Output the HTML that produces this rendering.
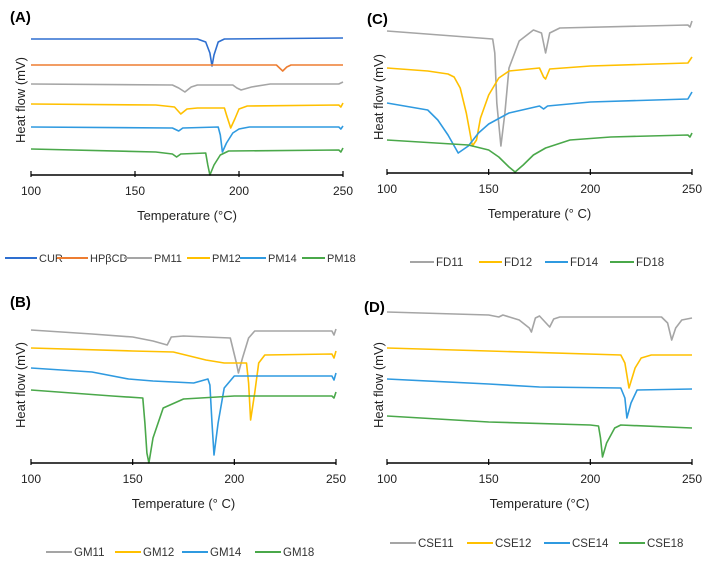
<!DOCTYPE html>
<html><head><meta charset="utf-8"><style>
body{margin:0;background:#fff}
svg{display:block;font-family:"Liberation Sans",Arial,sans-serif}
</style></head><body>
<svg id="c" width="724" height="570" viewBox="0 0 724 570"></svg>
<script>
const ticks=[100,150,200,250];
const seriesNamesA=["CUR","HPβCD","PM11","PM12","PM14","PM18"];
const seriesNamesB=["GM11","GM12","GM14","GM18"];
const seriesNamesC=["FD11","FD12","FD14","FD18"];
const seriesNamesD=["CSE11","CSE12","CSE14","CSE18"];
// [temperature, heat flow (a.u.)]
const CUR=[[100,136],[180,136],[184,133],[186,122],[187,109],[188,120],[190,133],[193,136],[250,137]];
const HPBCD=[[100,110],[218,110],[220,106],[221,104],[223,108],[225,110],[250,110]];
const PM11=[[100,91],[168,90],[171,87],[174,83],[177,88],[180,90],[197,90],[199,87],[201,85],[206,88],[215,91],[248,91],[250,93]];
const PM12=[[100,71],[160,70],[169,68],[172,61],[175,66],[180,67],[193,67],[194,60],[196,47],[198,56],[200,66],[204,69],[248,70],[249,68],[250,72]];
const PM14=[[100,48],[168,47],[171,44],[173,47],[190,48],[191,40],[192,23],[194,32],[197,42],[200,46],[205,48],[248,48],[249,46],[250,49]];
const PM18=[[100,26],[160,23],[168,21],[170,18],[172,21],[184,22],[185,10],[186,0],[188,10],[191,20],[195,24],[248,25],[249,23],[250,27]];
const GM11=[[100,133],[130,129],[150,126],[160,122],[167,118],[169,126],[175,127],[198,125],[201,100],[202,90],[204,105],[207,125],[210,132],[248,132],[249,128],[250,134]];
const GM12=[[100,115],[150,112],[170,111],[180,106],[186,103],[195,100],[206,100],[207,80],[208,43],[210,70],[212,100],[215,108],[248,109],[249,105],[250,112]];
const GM14=[[100,95],[130,91],[148,84],[160,82],[180,80],[187,84],[188,78],[189,40],[190,8],[192,40],[195,75],[200,87],[248,87],[249,83],[250,90]];
const GM18=[[100,73],[140,67],[155,65],[156,40],[157,10],[158,0],[160,25],[165,55],[175,64],[200,67],[248,67],[249,65],[250,71]];
const FD11=[[100,142],[152,134],[153,120],[154,70],[156,27],[158,60],[160,105],[165,132],[172,143],[176,140],[178,120],[180,140],[185,145],[248,148],[249,146],[250,152]];
const FD12=[[100,105],[120,102],[130,99],[133,96],[136,85],[139,60],[142,27],[144,33],[146,55],[150,78],[155,95],[160,102],[175,105],[177,96],[178,94],[180,104],[200,107],[248,110],[250,116]];
const FD14=[[100,70],[120,63],[125,53],[130,38],[135,20],[140,27],[145,40],[150,49],[160,60],[175,67],[177,64],[179,67],[200,71],[248,74],[250,81]];
const FD18=[[100,33],[140,28],[150,23],[155,16],[160,6],[163,1],[167,8],[172,18],[178,25],[190,33],[210,36],[248,38],[249,36],[250,40]];
const CSE11=[[100,151],[150,148],[155,146],[157,148],[165,143],[170,135],[171,131],[173,145],[175,147],[180,136],[182,144],[185,146],[235,146],[238,140],[240,123],[242,135],[245,143],[250,145]];
const CSE12=[[100,115],[150,112],[215,108],[217,100],[219,75],[222,95],[225,105],[230,108],[250,108]];
const CSE14=[[100,84],[150,79],[175,76],[215,75],[217,65],[218,45],[220,60],[223,73],[250,74]];
const CSE18=[[100,47],[150,41],[200,38],[204,37],[205,25],[206,6],[208,20],[212,35],[215,38],[250,35]];

const NS="http://www.w3.org/2000/svg";
const svg=document.getElementById('c');
function el(t,a,p){const e=document.createElementNS(NS,t);for(const k in a)e.setAttribute(k,a[k]);(p||svg).appendChild(e);return e;}
const COL={blue:"#2e6fd0",orange:"#ed7d31",gray:"#a5a5a5",yellow:"#ffc000",lblue:"#2f9ae0",green:"#4aa84a"};

function panel(cfg){
  const g=el('g',{});
  
  
  const x=t=>cfg.x0+(t-100)/150*(cfg.x1-cfg.x0);
  const y=v=>cfg.ay-v;
  const lab=el('text',{x:cfg.lx,y:cfg.ly,'font-size':15,'font-weight':'bold',fill:'#000'},g);
  lab.textContent='('+cfg.id+')';
  
  
  cfg.series.forEach((s,i)=>{
    const p=el('polyline',{points:s.d.map(q=>x(q[0]).toFixed(1)+','+y(q[1]).toFixed(1)).join(' '),fill:'none',stroke:s.c,'stroke-width':1.6,'stroke-linejoin':'round'},g);
    
    
  });
  const ax=el('line',{x1:cfg.x0,x2:cfg.x1,y1:cfg.ay,y2:cfg.ay,stroke:'#000','stroke-width':1.5},g);
  
  
  ticks.forEach(t=>{
    el('line',{x1:x(t),x2:x(t),y1:cfg.ay-4,y2:cfg.ay+2,stroke:'#000','stroke-width':1.2},g);
    const tl=el('text',{x:x(t),y:cfg.ay+20,'font-size':12,'text-anchor':'middle',fill:'#222'},g);
    tl.textContent=t;
    
    
  });
  const xt=el('text',{x:(cfg.x0+cfg.x1)/2,y:cfg.ay+45,'font-size':13,'text-anchor':'middle',fill:'#222'},g);
  xt.textContent=cfg.xt;
  
  
  const yt=el('text',{x:0,y:0,'font-size':13,'text-anchor':'middle',fill:'#222',transform:`translate(${cfg.yx},${cfg.yy}) rotate(-90)`},g);
  yt.textContent='Heat flow (mV)';
  
  
  cfg.series.forEach((s,i)=>{
    const lx=cfg.leg[i][0], lx2=cfg.leg[i][1];
    const lg=el('g',{},g);
    
    
    el('line',{x1:lx,x2:lx2,y1:cfg.legY-4,y2:cfg.legY-4,stroke:s.c,'stroke-width':2},lg);
    const t=el('text',{x:lx2+2,y:cfg.legY,'font-size':cfg.fs||11.5,fill:'#333'},lg);
    t.textContent=s.n;
  });
}
panel({id:'A',x0:31,x1:343,ay:175,lx:10,ly:22,xt:'Temperature (°C)',yx:25,yy:100,legY:262,fs:11,leg:[[5,37],[57,88],[124,152],[187,210],[240,266],[302,325]],
 series:[{n:seriesNamesA[0],d:CUR,c:COL.blue},{n:seriesNamesA[1],d:HPBCD,c:COL.orange},{n:seriesNamesA[2],d:PM11,c:COL.gray},{n:seriesNamesA[3],d:PM12,c:COL.yellow},{n:seriesNamesA[4],d:PM14,c:COL.lblue},{n:seriesNamesA[5],d:PM18,c:COL.green}]});
panel({id:'C',x0:387,x1:692,ay:173,lx:367,ly:24,xt:'Temperature (°  C)',yx:383,yy:97,legY:266,leg:[[410,434],[479,502],[545,568],[610,634]],
 series:[{n:seriesNamesC[0],d:FD11,c:COL.gray},{n:seriesNamesC[1],d:FD12,c:COL.yellow},{n:seriesNamesC[2],d:FD14,c:COL.lblue},{n:seriesNamesC[3],d:FD18,c:COL.green}]});
panel({id:'B',x0:31,x1:336,ay:463,lx:10,ly:307,xt:'Temperature (°  C)',yx:25,yy:385,legY:556,leg:[[46,72],[115,141],[182,208],[255,281]],
 series:[{n:seriesNamesB[0],d:GM11,c:COL.gray},{n:seriesNamesB[1],d:GM12,c:COL.yellow},{n:seriesNamesB[2],d:GM14,c:COL.lblue},{n:seriesNamesB[3],d:GM18,c:COL.green}]});
panel({id:'D',x0:387,x1:692,ay:463,lx:364,ly:312,xt:'Temperature (°C)',yx:383,yy:385,legY:547,leg:[[390,416],[467,493],[544,570],[619,645]],
 series:[{n:seriesNamesD[0],d:CSE11,c:COL.gray},{n:seriesNamesD[1],d:CSE12,c:COL.yellow},{n:seriesNamesD[2],d:CSE14,c:COL.lblue},{n:seriesNamesD[3],d:CSE18,c:COL.green}]});
</script>
</body></html>
